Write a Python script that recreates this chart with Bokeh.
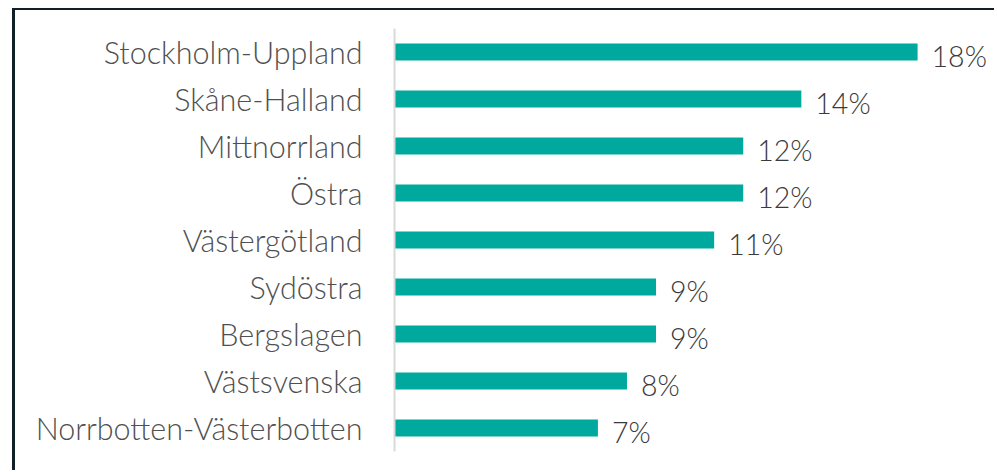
from bokeh.plotting import figure
from bokeh.models import ColumnDataSource, Range1d, FactorRange
from bokeh.core.properties import value
from bokeh.embed import file_html
from bokeh.resources import INLINE

categories = ["Stockholm-Uppland", "Skåne-Halland", "Mittnorrland", "Östra",
              "Västergötland", "Sydöstra", "Bergslagen", "Västsvenska",
              "Norrbotten-Västerbotten"]
values = [18, 14, 12, 12, 11, 9, 9, 8, 7]
labels = ["18%", "14%", "12%", "12%", "11%", "9%", "9%", "8%", "7%"]

FONT = "Lato Light"
source = ColumnDataSource(dict(cat=categories, val=values, lab=labels))

p = figure(width=982, height=462, output_backend="svg", toolbar_location=None,
           y_range=FactorRange(factors=list(reversed(categories)), range_padding=0),
           x_range=Range1d(0, 20.75),
           min_border_left=379, min_border_right=0, min_border_top=18, min_border_bottom=21)

p.hbar(y="cat", right="val", left=0, height=0.36, source=source,
       color="#00A99D", line_color=None)
p.text(x="val", y="cat", text="lab", source=source, x_offset=14, y_offset=4,
       text_baseline="middle", text_align="left", text_color="#3A3A3A",
       text_font=value(FONT), text_font_size="28.5px")

p.xaxis.visible = False
p.grid.visible = False
p.outline_line_color = None
p.yaxis.axis_line_color = "#D9D9D9"
p.yaxis.axis_line_width = 2
p.yaxis.major_tick_line_color = None
p.yaxis.minor_tick_line_color = None
p.yaxis.major_label_standoff = 26
p.yaxis.major_label_text_font = FONT
p.yaxis.major_label_text_font_size = "30.5px"
p.yaxis.major_label_text_color = "#505050"
p.styles = {"margin-left": "12px", "margin-top": "8px",
            "border-left": "3px solid #0F2127", "border-top": "2px solid #0F2127"}

open("out.html", "w").write(file_html(p, INLINE))
